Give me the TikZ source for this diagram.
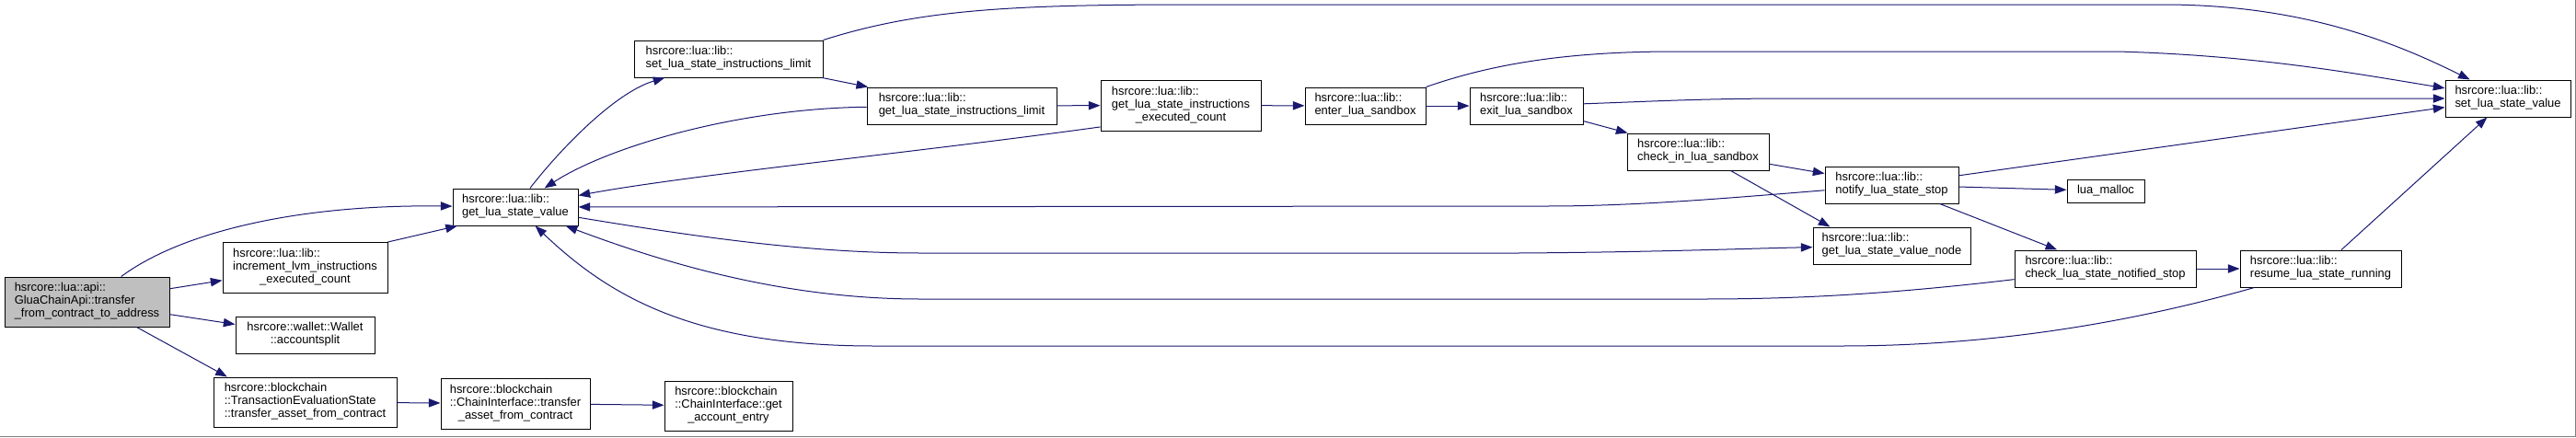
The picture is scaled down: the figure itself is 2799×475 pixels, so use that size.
\documentclass[tikz,border=0pt]{standalone}
\usepackage{fontspec}
\setmainfont{Liberation Sans}
\usepackage{xcolor}
\usepackage{tikz}
\usetikzlibrary{arrows.meta}
\definecolor{edgeblue}{HTML}{191970}
\definecolor{rootgray}{HTML}{BFBFBF}
\definecolor{framegray}{HTML}{7F7F7F}
\newcommand{\fnfont}{\fontsize{9.7}{10.5}\selectfont}
% doxygen-like label: lines flush left, last line centred
\newcommand{\fnlab}[1]{\begin{tabular}{@{}l@{}}#1\end{tabular}}
\newcommand{\lastln}[1]{\multicolumn{1}{@{}c@{}}{#1}}
\tikzset{
  % --- function boxes -------------------------------------------------------
  fn/.style={draw=black,fill=white,line width=0.75pt,inner sep=0pt,font=\fnfont},
  fnroot/.style={fn,fill=rootgray},
  sz/.style 2 args={minimum width=#1*0.75pt,minimum height=#2*0.75pt},
  % --- calls ----------------------------------------------------------------
  call/.style={draw=edgeblue,line width=0.75pt,
               -{Triangle[length=9.5pt,width=7pt,fill=edgeblue]}},
}

\begin{document}
\begin{tikzpicture}[x=0.75pt,y=-0.75pt]
  \useasboundingbox (0,0) rectangle (2799,475);

  \node[fnroot,sz={179}{54}] (main) at (94.5,328)
       {\fnlab{hsrcore::lua::api::\\GluaChainApi::transfer\\\lastln{\_from\_contract\_to\_address}}};
  \node[fn,sz={179}{55}] (incr) at (331.5,290.5)
       {\fnlab{hsrcore::lua::lib::\\increment\_lvm\_instructions\\\lastln{\_executed\_count}}};
  \node[fn,sz={151}{40}] (wallet) at (331.5,364)
       {\fnlab{hsrcore::wallet::Wallet\\\lastln{::accountsplit}}};
  \node[fn,sz={199}{54}] (tes) at (331.5,437)
       {\fnlab{hsrcore::blockchain\\::TransactionEvaluationState\\\lastln{::transfer\_asset\_from\_contract}}};
  \node[fn,sz={162}{55}] (citrans) at (560,438.5)
       {\fnlab{hsrcore::blockchain\\::ChainInterface::transfer\\\lastln{\_asset\_from\_contract}}};
  \node[fn,sz={139}{54}] (getacct) at (791.5,441)
       {\fnlab{hsrcore::blockchain\\::ChainInterface::get\\\lastln{\_account\_entry}}};

  \node[fn,sz={136}{40}] (getval) at (560,225)
       {\fnlab{hsrcore::lua::lib::\\\lastln{get\_lua\_state\_value}}};
  \node[fn,sz={205}{40}] (setlim) at (791.5,64)
       {\fnlab{hsrcore::lua::lib::\\\lastln{set\_lua\_state\_instructions\_limit}}};
  \node[fn,sz={206}{40}] (getlim) at (1045,115)
       {\fnlab{hsrcore::lua::lib::\\\lastln{get\_lua\_state\_instructions\_limit}}};
  \node[fn,sz={174}{55}] (execcnt) at (1283,114.5)
       {\fnlab{hsrcore::lua::lib::\\get\_lua\_state\_instructions\\\lastln{\_executed\_count}}};
  \node[fn,sz={131}{40}] (enter) at (1483.5,115)
       {\fnlab{hsrcore::lua::lib::\\\lastln{enter\_lua\_sandbox}}};
  \node[fn,sz={123}{40}] (exit) at (1658.5,115)
       {\fnlab{hsrcore::lua::lib::\\\lastln{exit\_lua\_sandbox}}};
  \node[fn,sz={154}{40}] (checkin) at (1845,165)
       {\fnlab{hsrcore::lua::lib::\\\lastln{check\_in\_lua\_sandbox}}};
  \node[fn,sz={145}{40}] (notify) at (2055.5,201)
       {\fnlab{hsrcore::lua::lib::\\\lastln{notify\_lua\_state\_stop}}};
  \node[fn,sz={171}{40}] (valnode) at (2055.5,267)
       {\fnlab{hsrcore::lua::lib::\\\lastln{get\_lua\_state\_value\_node}}};
  \node[fn,sz={84}{25}] (malloc) at (2288,207.5) {lua\_malloc};
  \node[fn,sz={197}{40}] (chkstop) at (2287.5,292)
       {\fnlab{hsrcore::lua::lib::\\\lastln{check\_lua\_state\_notified\_stop}}};
  \node[fn,sz={175}{40}] (resume) at (2521.5,292)
       {\fnlab{hsrcore::lua::lib::\\\lastln{resume\_lua\_state\_running}}};
  \node[fn,sz={136}{40}] (setval) at (2725,107)
       {\fnlab{hsrcore::lua::lib::\\\lastln{set\_lua\_state\_value}}};

  % calls out of the root
  \draw[call] (main) .. controls (200,250) and (330,222) .. (getval);
  \draw[call] (main) -- (incr);
  \draw[call] (main) -- (wallet);
  \draw[call] (main.-27) -- (tes.162);
  \draw[call] (incr.17) -- (getval.198);
  \draw[call] (tes) -- (citrans);
  \draw[call] (citrans) -- (getacct);

  % forward chain
  \draw[call] (getval) .. controls (612,158) and (670,100) .. (setlim);
  \draw[call] (setlim) -- (getlim);
  \draw[call] (getlim) -- (execcnt);
  \draw[call] (execcnt) -- (enter);
  \draw[call] (enter) -- (exit);
  \draw[call] (exit) -- (checkin);
  \draw[call] (checkin) -- (notify);
  \draw[call] (checkin.-30) -- (valnode.163);
  \draw[call] (notify) -- (malloc);
  \draw[call] (notify) -- (chkstop);
  \draw[call] (chkstop) -- (resume);

  % into set_lua_state_value
  \draw[call] (setlim.north east) .. controls (1000,10) and (1100,5) .. (1300,5)
        -- (2350,5) .. controls (2500,5) and (2600,45) .. (setval);
  \draw[call] (enter.north east) .. controls (1620,70) and (1700,56) .. (1820,56)
        -- (2300,56) .. controls (2450,60) and (2560,80) .. (setval);
  \draw[call] (exit) .. controls (1800,110) and (1850,107) .. (1950,107) -- (setval);
  \draw[call] (notify) -- (setval);
  \draw[call] (resume) -- (setval);

  % back into get_lua_state_value
  \draw[call] (getlim) .. controls (800,118) and (660,160) .. (getval);
  \draw[call] (execcnt.195) .. controls (1000,165) and (750,190) .. (getval);
  \draw[call] (notify) .. controls (1880,215) and (1780,224) .. (1680,224) -- (getval);
  \draw[call] (getval) .. controls (760,258) and (880,275) .. (1000,275)
        -- (1650,275) .. controls (1800,274) and (1900,270) .. (valnode);
  \draw[call] (chkstop) .. controls (2050,320) and (1950,325) .. (1850,325)
        -- (1000,325) .. controls (850,325) and (720,285) .. (getval);
  \draw[call] (resume) .. controls (2300,355) and (2150,376) .. (2000,376)
        -- (950,376) .. controls (750,376) and (660,320) .. (getval);

  \draw[framegray,line width=0.75pt] (0,474.5) -- (2798.5,474.5) -- (2798.5,0);
\end{tikzpicture}
\end{document}
